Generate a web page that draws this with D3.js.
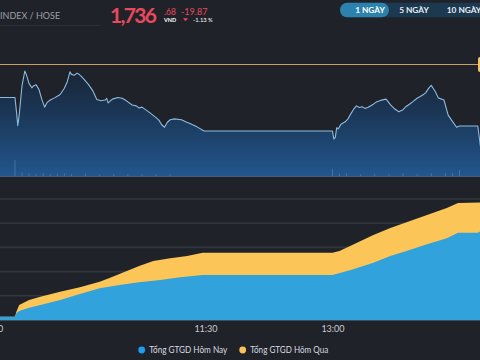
<!DOCTYPE html>
<html><head><meta charset="utf-8">
<script src="https://cdn.jsdelivr.net/npm/d3@7/dist/d3.min.js"></script>
<style>
html,body{margin:0;padding:0;background:#202229;overflow:hidden;}
svg{display:block;font-family:Lato,"Noto Sans",sans-serif;}
</style></head>
<body><svg id="c" width="480" height="360"></svg>
<script>
// ---- data ----
const refClose = 1756.55;
const lastPrice = "1,736", lastDec = ".68", change = "-19.87", changePct = "-1.13 %";
const ranges = ["1 NGÀY", "5 NGÀY", "10 NGÀY"];
const xTickLabels = ["9:00", "11:30", "13:00"];
const legendLabels = ["Tổng GTGD Hôm Nay", "Tổng GTGD Hôm Qua"];

const priceTimes = ["9:00","9:15","9:16","9:17","9:18","9:20","9:22","9:23","9:25","9:27","9:28","9:30","9:32","9:34","9:36","9:38","9:40","9:43","9:45","9:47","9:50","9:52","9:54","9:55","9:57","9:59","10:00","10:02","10:04","10:07","10:10","10:13","10:16","10:19","10:20","10:21","10:24","10:28","10:31","10:34","10:38","10:41","10:43","10:45","10:50","10:55","10:57","10:59","11:01","11:03","11:05","11:08","11:13","11:16","11:19","11:24","11:29","11:30","13:00","13:01","13:02","13:03","13:04","13:06","13:09","13:11","13:13","13:15","13:17","13:19","13:21","13:23","13:25","13:29","13:31","13:34","13:38","13:41","13:44","13:47","13:50","13:52","13:55","13:57","14:00","14:04","14:06","14:08","14:10","14:13","14:15","14:19","14:22","14:25","14:28","14:30","14:43","14:45"];
const priceValues = [1748.7,1748.7,1745.5,1742.0,1744.5,1751.5,1755.0,1754.2,1752.0,1751.0,1751.4,1751.7,1750.6,1748.3,1746.4,1747.6,1748.1,1748.6,1749.0,1749.4,1750.9,1752.4,1754.8,1754.2,1754.0,1754.5,1754.3,1753.7,1753.0,1751.8,1750.4,1748.2,1747.9,1748.1,1748.5,1747.4,1748.3,1748.7,1748.5,1747.9,1746.9,1746.7,1746.2,1746.4,1745.2,1743.9,1743.3,1742.2,1741.6,1742.8,1743.4,1743.6,1743.4,1742.9,1742.5,1741.7,1740.7,1740.7,1740.7,1738.8,1739.2,1741.5,1741.2,1742.3,1742.9,1743.6,1744.8,1745.9,1746.7,1746.3,1746.5,1746.1,1746.3,1747.1,1747.6,1748.0,1748.3,1747.0,1746.0,1745.3,1745.8,1746.5,1747.2,1747.7,1748.5,1749.3,1749.8,1750.8,1751.6,1750.0,1748.6,1748.1,1744.5,1743.0,1741.6,1741.9,1741.9,1736.68];

const volTimes = ["9:15","9:20","9:25","9:30","9:35","9:40","9:45","9:50","9:55","10:05","10:15","10:25","10:35","10:45","10:55","11:05","13:00","13:05","13:10","13:20","13:30","13:40","13:50","14:00","14:10","14:20","14:25","14:30"];
const volValues = [80,18,14,12,16,10,12,14,10,12,8,10,9,8,10,8,35,12,14,10,12,10,14,12,14,16,14,30];

const todayTimes = ["9:00","9:15","9:16","9:18","9:25","9:33","9:47","10:01","10:15","10:29","10:43","10:58","11:12","11:28","11:30","13:00","13:13","13:29","13:41","13:53","14:07","14:21","14:29","14:43","14:45"];
const todayValues = [682,682,1384,1860,2541,3099,4132,5372,6550,7231,7789,8264,8822,9298,9298,9298,10331,11839,13223,14318,15640,16880,18037,18037,18388];

const ydayTimes = ["9:00","9:15","9:16","9:18","9:25","9:33","9:47","10:01","10:15","10:22","10:29","10:43","10:53","11:05","11:17","11:28","11:30","13:00","13:05","13:29","13:41","13:53","14:07","14:21","14:29","14:45"];
const ydayValues = [682,682,1715,3099,4132,4814,5847,6756,7913,8678,9504,11157,12190,12748,13223,13905,13905,13905,14256,17562,19008,20248,21694,23140,24174,24300];

const gridValues = [5000,10000,15000,20000,25000];

// ---- drawing ----
const parse = d3.timeParse("%H:%M");
const svg = d3.select("#c");
const W = 480;

const x = d3.scaleTime().domain([parse("9:00"), parse("15:00")]).range([-6.2, 501.8]);
const yP = d3.scaleLinear().domain([1730, 1760]).range([176, 50]);
const yV = d3.scaleLinear().domain([0, 100]).range([0, 20]);
const yB = d3.scaleLinear().domain([0, 30000]).range([320, 174.8]);

// header
svg.append("line").attr("x1",0).attr("x2",100).attr("y1",25.5).attr("y2",25.5).attr("stroke","#2c2f37");
svg.append("text").attr("x",0).attr("y",18.5).attr("fill","#9aa0a8").attr("font-size",9).text("INDEX / HOSE");
const red = "#e8495c";
svg.append("text").attr("x",110).attr("y",23).attr("fill",red).attr("font-size",21).attr("font-weight",700).attr("textLength",47).text(lastPrice);
svg.append("text").attr("x",164).attr("y",15).attr("fill",red).attr("font-size",8.5).text(lastDec);
svg.append("text").attr("x",164).attr("y",21.5).attr("fill","#fff").attr("font-size",5.5).attr("font-weight",700).text("VND");
svg.append("text").attr("x",181).attr("y",15).attr("fill",red).attr("font-size",9).text(change);
svg.append("path").attr("d","M183,18.3 L188,18.3 L185.5,21.3 Z").attr("fill",red);
svg.append("text").attr("x",193).attr("y",21.5).attr("fill","#fff").attr("font-size",5.8).text(changePct);

// range buttons
const btnG = svg.append("g");
btnG.append("rect").attr("x",340).attr("y",2.7).attr("width",160).attr("height",14.6).attr("rx",7.3).attr("fill","#1d3950");
btnG.append("rect").attr("x",340).attr("y",2.7).attr("width",49).attr("height",14.6).attr("rx",7.3).attr("fill","#2b82ad");
const btnX = [370, 414, 464];
ranges.forEach((r,i)=>{
  btnG.append("text").attr("x",btnX[i]).attr("y",13).attr("text-anchor","middle")
    .attr("fill", i===0 ? "#fff" : "#e6eef5").attr("font-size",8.3).attr("font-weight",700).text(r);
});

// top chart
const price = priceTimes.map((t,i)=>({t:parse(t), v:priceValues[i]}));
const defs = svg.append("defs");
const grad = defs.append("linearGradient").attr("id","pg").attr("gradientUnits","userSpaceOnUse")
  .attr("x1",0).attr("x2",0).attr("y1",64).attr("y2",176);
grad.append("stop").attr("offset",0).attr("stop-color","#19222f");
grad.append("stop").attr("offset",0.45).attr("stop-color","#1b3758");
grad.append("stop").attr("offset",1).attr("stop-color","#22568d");

svg.append("path").datum(price)
  .attr("d", d3.area().x(d=>x(d.t)).y0(176).y1(d=>yP(d.v)))
  .attr("fill","url(#pg)");

// volume bars
const vol = volTimes.map((t,i)=>({t:parse(t), v:volValues[i]}));
svg.append("g").selectAll("rect").data(vol).join("rect")
  .attr("x", d=>x(d.t)-0.5).attr("width",1)
  .attr("y", d=>176-yV(d.v)).attr("height", d=>yV(d.v))
  .attr("fill","rgba(150,190,230,0.3)");
svg.append("line").attr("x1",0).attr("x2",W).attr("y1",176.5).attr("y2",176.5).attr("stroke","rgba(120,165,210,0.45)");

svg.append("path").datum(price)
  .attr("d", d3.line().x(d=>x(d.t)).y(d=>yP(d.v)))
  .attr("fill","none").attr("stroke","#8dbbdf").attr("stroke-width",1.1).attr("stroke-linejoin","round");

// reference line
svg.append("line").attr("x1",0).attr("x2",W).attr("y1",yP(refClose)).attr("y2",yP(refClose))
  .attr("stroke","#c9a062").attr("stroke-width",1.1);
svg.append("rect").attr("x",478).attr("y",yP(refClose)-7.5).attr("width",12).attr("height",15).attr("rx",2).attr("fill","#f2c46a");

// bottom chart
svg.append("g").selectAll("line").data(gridValues).join("line")
  .attr("x1",0).attr("x2",W).attr("y1",d=>yB(d)).attr("y2",d=>yB(d))
  .attr("stroke","#33363d").attr("stroke-width",1.6);

const yday = ydayTimes.map((t,i)=>({t:parse(t), v:ydayValues[i]}));
const today = todayTimes.map((t,i)=>({t:parse(t), v:todayValues[i]}));
const areaB = d3.area().x(d=>x(d.t)).y0(yB(0)).y1(d=>yB(d.v));
svg.append("path").datum(yday).attr("d",areaB).attr("fill","#fcc558");
svg.append("path").datum(today).attr("d",areaB).attr("fill","#31a2dc");

svg.append("line").attr("x1",0).attr("x2",W).attr("y1",320.5).attr("y2",320.5).attr("stroke","#3b4e62").attr("stroke-width",1);

// x axis
const ax = svg.append("g").attr("transform","translate(0,321)")
  .call(d3.axisBottom(x).tickValues(xTickLabels.map(parse)).tickSize(0).tickPadding(5).tickFormat(d3.timeFormat("%-H:%M")));
ax.select(".domain").remove();
ax.selectAll("text").attr("fill","#c9ccd1").attr("font-size",9).attr("font-family","Lato,'Noto Sans',sans-serif");

// legend
const legColors = ["#1e9ef0","#f8c45a"];
const legX = [141.7, 242.7];
legendLabels.forEach((l,i)=>{
  svg.append("circle").attr("cx",legX[i]).attr("cy",350).attr("r",3.4).attr("fill",legColors[i]);
  svg.append("text").attr("x",legX[i]+7.5).attr("y",353).attr("fill","#d8dbe0").attr("font-size",9.5)
    .attr("textLength",78).attr("lengthAdjust","spacingAndGlyphs").text(l);
});
</script></body></html>
